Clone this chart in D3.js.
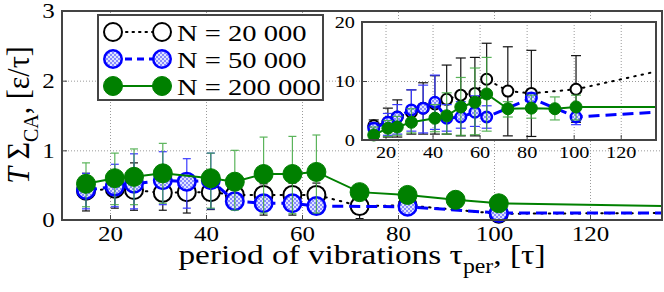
<!DOCTYPE html>
<html>
<head>
<meta charset="utf-8">
<script src="https://cdn.jsdelivr.net/npm/d3@7"></script>
<style>
  body { margin: 0; background: #fff; }
  svg text { font-family: "Liberation Serif", "Times New Roman", serif; fill: #000; }
</style>
</head>
<body>
<svg id="chart" width="664" height="292"></svg>
<script>
// periods of vibration for each system size
var xBlack = [15, 21, 25, 31, 36, 41, 46, 52, 58, 63, 72, 82, 101];
var xBlue  = [15, 21, 25, 31, 36, 41, 46, 52, 58, 63, 82, 101];
var xGreen = [15, 21, 25, 31, 41, 46, 52, 58, 63, 72, 82, 92, 101];
var tailX = 135;

// main panel: T*Sigma_CA values with error bar ends
var mainBlack   = [0.42, 0.45, 0.43, 0.39, 0.40, 0.40, 0.36, 0.36, 0.36, 0.36, 0.20, 0.21, 0.09];
var mainBlackHi = [0.67, 0.65, 0.82, 0.75, 0.62, 0.62, 0.50, 0.52, 0.53, 0.53, 0.30, 0.28, 0.14];
var mainBlackLo = [0.13, 0.17, 0.14, 0.14, 0.10, 0.15, 0.20, 0.07, 0.07, 0.12, 0.02, 0.12, 0.04];
var mainBlue    = [0.43, 0.48, 0.52, 0.57, 0.55, 0.57, 0.27, 0.24, 0.24, 0.20, 0.19, 0.10];
var mainBlueHi  = [0.67, 0.80, 0.95, 0.98, 0.88, 0.96, 0.36, 0.32, 0.32, 0.28, 0.27, 0.14];
var mainBlueLo  = [0.16, 0.19, 0.16, 0.22, 0.17, 0.16, 0.18, 0.16, 0.16, 0.12, 0.12, 0.05];
var mainGreen   = [0.52, 0.60, 0.62, 0.67, 0.60, 0.55, 0.66, 0.66, 0.69, 0.40, 0.36, 0.29, 0.24];
var mainGreenHi = [0.82, 0.96, 1.02, 1.10, 0.96, 1.00, 1.19, 1.20, 1.22, 0.48, 0.42, 0.34, 0.29];
var mainGreenLo = [0.19, 0.22, 0.22, 0.24, 0.17, 0.14, 0.10, 0.09, 0.10, 0.32, 0.28, 0.24, 0.19];
var mainTail = { black: 0.10, blue: 0.10, green: 0.20 };

// inset panel values
var insetBlack   = [2.4, 3.0, 3.9, 4.7, 5.4, 6.1, 6.9, 7.6, 7.9, 10.3, 8.3, 7.9, 8.6];
var insetBlackHi = [3.4, 5.4, 6.8, 8.5, 9.7, 10.9, 12.7, 13.9, 14.0, 16.4, 15.8, 15.2, 14.3];
var insetBlackLo = [1.0, 0.5, 0.5, 1.0, 1.0, 1.0, 1.0, 0.7, 0.7, 4.0, 0.7, 0.6, 3.0];
var insetBlue    = [2.0, 3.0, 3.9, 5.1, 5.4, 6.4, 3.7, 3.9, 4.7, 3.9, 7.1, 3.9];
var insetBlueHi  = [2.9, 4.5, 6.0, 8.5, 9.3, 11.0, 6.0, 6.5, 7.5, 5.8, 8.0, 5.0];
var insetBlueLo  = [1.0, 0.8, 1.0, 1.5, 1.2, 1.8, 1.5, 2.0, 2.3, 2.0, 5.8, 2.6];
var insetGreen   = [0.85, 2.0, 2.2, 3.0, 3.7, 4.1, 5.6, 6.4, 7.8, 5.3, 5.4, 5.3, 5.6];
var insetGreenHi = [2.2, 3.3, 4.0, 5.3, 6.0, 8.0, 10.6, 12.2, 14.0, 6.5, 7.6, 7.3, 7.6];
var insetGreenLo = [0.3, 0.6, 0.8, 1.2, 1.4, 1.0, 0.8, 0.9, 1.5, 3.9, 3.7, 3.4, 3.4];
var insetTail = { black: 11.6, blue: 4.7, green: 5.6 };

var legendLabels = ["N = 20 000", "N = 50 000", "N = 200 000"];
var mainXTicks = [20, 40, 60, 80, 100, 120];
var mainYTicks = [0, 1, 2, 3];
var insetXTicks = [20, 40, 60, 80, 100, 120];
var insetYTicks = [0, 10, 20];

var stretch = 1.19; // the original figure is wider than its fonts

var svg = d3.select("#chart");

// dotted fill used by the N = 50 000 markers
var pat = svg.append("defs").append("pattern")
    .attr("id", "dots").attr("patternUnits", "userSpaceOnUse")
    .attr("width", 4).attr("height", 4);
pat.append("rect").attr("width", 4).attr("height", 4).attr("fill", "#dfe4ff");
pat.append("circle").attr("cx", 1).attr("cy", 1).attr("r", 0.8).attr("fill", "#1a1aff");
pat.append("circle").attr("cx", 3).attr("cy", 3).attr("r", 0.8).attr("fill", "#1a1aff");

var styles = {
    black: { line: "#000", width: 2, dash: "1.5,6", cap: "round", bar: "#111", fill: "#fff", stroke: "#000", sw: 2 },
    blue:  { line: "#0000ff", width: 3, dash: "11,6", cap: "butt", bar: "#3a3aff", fill: "url(#dots)", stroke: "#0000ff", sw: 2.5 },
    green: { line: "#008000", width: 2, dash: null, cap: "butt", bar: "#3fa83f", fill: "#008000", stroke: "#008000", sw: 1 }
};

function makeSeries(key, xs, ys, hi, lo, tail) {
    var pts = xs.map(function(x, i) { return { x: x, y: ys[i], hi: hi[i], lo: lo[i] }; });
    return { key: key, pts: pts, tail: tail };
}

function gridLines(sel) {
    sel.select(".domain").remove();
    sel.selectAll("text").remove();
    sel.selectAll("line").attr("stroke", "#9a9a9a").attr("stroke-dasharray", "1,2");
}

function drawPanel(g, x, y, series, opt) {
    var w = x.range()[1] - x.range()[0];
    var h = y.range()[0] - y.range()[1];
    var x0 = x.range()[0], y0 = y.range()[1];

    g.append("rect").attr("x", x0).attr("y", y0).attr("width", w).attr("height", h)
        .attr("fill", "#fff");

    // dotted grid
    g.append("g").attr("transform", "translate(0," + y.range()[0] + ")")
        .call(d3.axisBottom(x).tickValues(opt.xTicks).tickSize(-h))
        .call(gridLines);
    g.append("g").attr("transform", "translate(" + x0 + ",0)")
        .call(d3.axisLeft(y).tickValues(opt.yTicks.slice(1, -1)).tickSize(-w))
        .call(gridLines);

    // ticks and their labels
    var fmt = d3.format("d");
    var xa = g.append("g").attr("transform", "translate(0," + y.range()[0] + ")")
        .call(d3.axisBottom(x).tickValues(opt.xTicks).tickSize(-5).tickPadding(opt.pad).tickFormat(fmt));
    var ya = g.append("g").attr("transform", "translate(" + x0 + ",0)")
        .call(d3.axisLeft(y).tickValues(opt.yTicks).tickSize(-5).tickPadding(opt.pad).tickFormat(fmt));
    [xa, ya].forEach(function(a) {
        a.attr("font-family", null).attr("font-size", null);
        a.select(".domain").remove();
        a.selectAll("line").attr("stroke", "#444");
        a.selectAll("text").attr("font-size", opt.font)
            .attr("transform", "scale(" + stretch + ",1)");
    });

    var plot = g.append("g");

    series.forEach(function(s) {
        var st = styles[s.key];
        var pts = s.pts;

        // error bars
        var bars = plot.append("g").attr("stroke", st.bar).attr("stroke-width", 1.2)
            .attr("opacity", s.key === "green" ? 0.85 : 1);
        pts.forEach(function(p) {
            var cx = x(p.x);
            bars.append("line").attr("x1", cx).attr("x2", cx).attr("y1", y(p.hi)).attr("y2", y(p.lo));
            [p.hi, p.lo].forEach(function(v) {
                bars.append("line").attr("x1", cx - opt.capW).attr("x2", cx + opt.capW)
                    .attr("y1", y(v)).attr("y2", y(v));
            });
        });

        // connecting line, running on to the right edge
        var linePts = pts.map(function(p) { return [p.x, p.y]; }).concat([[tailX, s.tail]]);
        plot.append("path")
            .attr("d", d3.line().x(function(d) { return x(d[0]); }).y(function(d) { return y(d[1]); })(linePts))
            .attr("fill", "none").attr("stroke", st.line).attr("stroke-width", st.width)
            .attr("stroke-dasharray", st.dash).attr("stroke-linecap", st.cap);

        plot.append("g").selectAll("circle").data(pts).join("circle")
            .attr("cx", function(d) { return x(d.x); })
            .attr("cy", function(d) { return y(d.y); })
            .attr("r", opt.r - st.sw / 2)
            .attr("fill", st.fill).attr("stroke", st.stroke).attr("stroke-width", st.sw);
    });

    g.append("rect").attr("x", x0).attr("y", y0).attr("width", w).attr("height", h)
        .attr("fill", "none").attr("stroke", "#444").attr("stroke-width", 2);
}

var mainSeries = [
    makeSeries("black", xBlack, mainBlack, mainBlackHi, mainBlackLo, mainTail.black),
    makeSeries("blue", xBlue, mainBlue, mainBlueHi, mainBlueLo, mainTail.blue),
    makeSeries("green", xGreen, mainGreen, mainGreenHi, mainGreenLo, mainTail.green)
];
var insetSeries = [
    makeSeries("black", xBlack, insetBlack, insetBlackHi, insetBlackLo, insetTail.black),
    makeSeries("blue", xBlue, insetBlue, insetBlueHi, insetBlueLo, insetTail.blue),
    makeSeries("green", xGreen, insetGreen, insetGreenHi, insetGreenLo, insetTail.green)
];

var mx = d3.scaleLinear().domain([10, 135]).range([62, 662]);
var my = d3.scaleLinear().domain([0, 3]).range([220, 11]);
drawPanel(svg.append("g"), mx, my, mainSeries,
    { xTicks: mainXTicks, yTicks: mainYTicks, font: 21, pad: 6, r: 10, capW: 4 });

// legend box
var lg = svg.append("g");
lg.append("rect").attr("x", 98).attr("y", 15).attr("width", 225).attr("height", 85)
    .attr("fill", "#fff").attr("stroke", "#444").attr("stroke-width", 2);
["black", "blue", "green"].forEach(function(k, i) {
    var st = styles[k];
    var cy = 32 + i * 27;
    lg.append("line").attr("x1", 113).attr("x2", 162).attr("y1", cy).attr("y2", cy)
        .attr("stroke", st.line).attr("stroke-width", st.width)
        .attr("stroke-dasharray", k === "black" ? "1.5,5" : (k === "blue" ? "7,5" : null))
        .attr("stroke-linecap", st.cap);
    [113, 162].forEach(function(cx) {
        lg.append("circle").attr("cx", cx).attr("cy", cy).attr("r", 10 - st.sw / 2)
            .attr("fill", st.fill).attr("stroke", st.stroke).attr("stroke-width", st.sw);
    });
    lg.append("text").attr("transform", "translate(177," + (cy + 9) + ") scale(" + stretch + ",1)")
        .attr("font-size", 24).text(legendLabels[i]);
});

var ix = d3.scaleLinear().domain([10, 135]).range([362, 656]);
var iy = d3.scaleLinear().domain([0, 20]).range([140, 22]);
drawPanel(svg.append("g"), ix, iy, insetSeries,
    { xTicks: insetXTicks, yTicks: insetYTicks, font: 17, pad: 6, r: 6.5, capW: 5 });

// axis titles
var xt = svg.append("text").attr("transform", "translate(362,264) scale(" + stretch + ",1)")
    .attr("text-anchor", "middle").attr("font-size", 28);
xt.append("tspan").text("period of vibrations \u03c4");
xt.append("tspan").attr("font-size", 20).attr("dy", 9).text("per");
xt.append("tspan").attr("dy", -9).text(", [\u03c4]");

var yt = svg.append("text").attr("transform", "translate(29,115) rotate(-90) scale(1,1.08)")
    .attr("text-anchor", "middle").attr("font-size", 30);
yt.append("tspan").attr("font-style", "italic").text("T");
yt.append("tspan").text(" \u03a3");
yt.append("tspan").attr("font-size", 20).attr("dy", 8).text("CA");
yt.append("tspan").attr("dy", -8).text(", [\u03b5/\u03c4]");
</script>
</body>
</html>
